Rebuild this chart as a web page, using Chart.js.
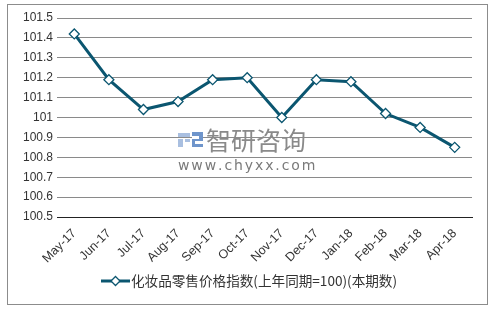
<!DOCTYPE html>
<html>
<head>
<meta charset="utf-8">
<script src="https://cdn.jsdelivr.net/npm/chart.js@4.4.1/dist/chart.umd.min.js"></script>
<style>
  html, body { margin: 0; padding: 0; background: #fff; }
  #wrap { width: 494px; height: 309px; }
</style>
</head>
<body>
<div id="wrap"><canvas id="chart" width="494" height="309"></canvas></div>
<script>
// data
var months = ['May-17', 'Jun-17', 'Jul-17', 'Aug-17', 'Sep-17', 'Oct-17',
              'Nov-17', 'Dec-17', 'Jan-18', 'Feb-18', 'Mar-18', 'Apr-18'];
var priceIndex = [101.42, 101.19, 101.04, 101.08, 101.19, 101.20,
                  101.00, 101.19, 101.18, 101.02, 100.95, 100.85];
var seriesName = '化妆品零售价格指数(上年同期=100)(本期数)';
var yMin = 100.5, yMax = 101.5, yStep = 0.1;

var lineColor = '#0b5670';

// frame, watermark and legend are drawn by hand
var extras = {
    id: 'extras',
    beforeDatasetsDraw: function(chart) {
        var ctx = chart.ctx;
        ctx.save();
        // little logo
        ctx.fillStyle = '#a9bfe0';
        ctx.fillRect(178, 133, 12, 4);
        ctx.fillRect(178, 139, 5, 8);
        ctx.fillRect(185, 139, 5, 3);
        ctx.fillStyle = '#6f95cb';
        ctx.fillRect(192, 132, 11, 15);
        ctx.fillStyle = '#fff';
        ctx.fillRect(192, 136, 7, 3);
        ctx.fillRect(195, 141, 8, 3);
        ctx.fillStyle = '#8a8a8a';
        ctx.font = '25px "Noto Sans CJK SC"';
        ctx.textBaseline = 'middle';
        ctx.fillText('智研咨询', 206, 140);
        ctx.fillStyle = '#7a7a7a';
        ctx.font = '14px "DejaVu Sans"';
        var s = 'www.chyxx.com', x = 178;
        for (var i = 0; i < s.length; i++) {
            ctx.fillText(s[i], x, 166);
            x += ctx.measureText(s[i]).width + 1.9;
        }
        ctx.restore();
    },
    afterDraw: function(chart) {
        var ctx = chart.ctx;
        ctx.save();
        ctx.strokeStyle = '#8c8c8c';
        ctx.lineWidth = 1;
        ctx.strokeRect(7.5, 4.5, 480, 300);

        // legend
        ctx.strokeStyle = lineColor;
        ctx.lineWidth = 3;
        ctx.beginPath();
        ctx.moveTo(101, 281);
        ctx.lineTo(130, 281);
        ctx.stroke();
        ctx.fillStyle = '#fff';
        ctx.lineWidth = 1.3;
        ctx.beginPath();
        ctx.moveTo(115.5, 276.5);
        ctx.lineTo(120, 281);
        ctx.lineTo(115.5, 285.5);
        ctx.lineTo(111, 281);
        ctx.closePath();
        ctx.fill();
        ctx.stroke();
        ctx.fillStyle = '#333';
        ctx.font = '13.6px "Noto Sans CJK SC"';
        ctx.textBaseline = 'middle';
        ctx.fillText(seriesName, 131, 281);
        ctx.restore();
    }
};

const canvas = document.getElementById('chart');
const chart = new Chart(canvas.getContext('2d'), {
    type: 'line',
    data: {
        labels: months,
        datasets: [{
            label: seriesName,
            data: priceIndex,
            borderColor: lineColor,
            borderWidth: 3,
            tension: 0,
            pointStyle: 'rectRot',
            pointRadius: 5,
            pointBackgroundColor: '#fff',
            pointBorderColor: lineColor,
            pointBorderWidth: 1.3
        }]
    },
    options: {
        responsive: false,
        animation: false,
        layout: { padding: { left: 0, right: 22, top: 18, bottom: 0 } },
        plugins: {
            legend: { display: false },
            tooltip: { enabled: false }
        },
        scales: {
            x: {
                offset: true,
                grid: { display: false, drawTicks: false },
                border: { display: true, color: '#222', width: 1 },
                ticks: {
                    color: '#333',
                    font: { family: 'Liberation Sans', size: 12.5 },
                    minRotation: 45,
                    maxRotation: 45,
                    padding: 9,
                    autoSkip: false
                },
                afterFit: function(scale) { scale.height = 92; }
            },
            y: {
                min: yMin,
                max: yMax,
                grid: { color: '#8a8a8a', lineWidth: 1, drawTicks: false },
                border: { display: false },
                ticks: {
                    stepSize: yStep,
                    color: '#333',
                    font: { family: 'Liberation Sans', size: 12 },
                    padding: 4,
                    callback: function(v) { return String(Number(v.toFixed(1))); }
                },
                afterFit: function(scale) { scale.width = 57; }
            }
        }
    },
    plugins: [extras]
});
</script>
</body>
</html>
